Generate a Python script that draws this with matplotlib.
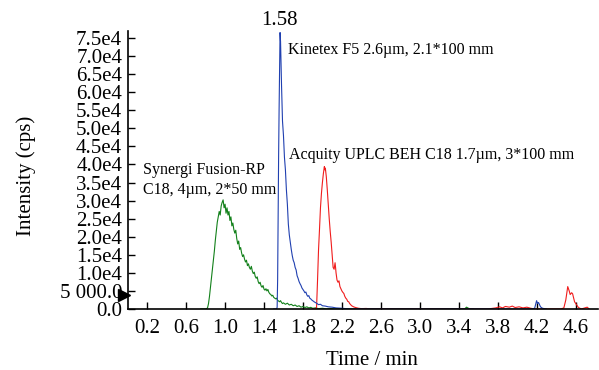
import matplotlib
matplotlib.use('Agg')
import matplotlib.pyplot as plt

plt.rcParams['font.family'] = ['Liberation Serif', 'DejaVu Serif']

# ========== data ==========
green_t = [0.75, 0.80, 0.81, 0.82, 0.83, 0.84, 0.85, 0.86, 0.87, 0.88, 0.89,
           0.90, 0.91, 0.92, 0.93, 0.94, 0.95, 0.96, 0.97, 0.98, 0.99,
           1.00, 1.01, 1.02, 1.03, 1.04, 1.05, 1.06, 1.07, 1.08, 1.09,
           1.10, 1.11, 1.12, 1.13, 1.14, 1.15, 1.16, 1.17, 1.18, 1.19,
           1.20, 1.21, 1.22, 1.23, 1.24, 1.25, 1.26, 1.27, 1.28, 1.29,
           1.30, 1.31, 1.32, 1.33, 1.34, 1.35, 1.36, 1.37, 1.38, 1.39,
           1.40, 1.41, 1.42, 1.43, 1.44, 1.45, 1.46, 1.47, 1.48, 1.49,
           1.50, 1.51, 1.52, 1.53, 1.54, 1.55, 1.56, 1.57, 1.58, 1.59,
           1.60, 1.62, 1.64, 1.66, 1.68, 1.70, 1.72, 1.74, 1.76, 1.78,
           1.80, 1.82, 1.84, 1.86, 1.88, 1.90, 1.93, 1.96, 2.00, 2.04,
           2.08, 2.12, 3.46, 3.48, 3.50, 3.52, 3.55]
green_i = [0, 0, 100, 300, 1500, 3500, 6000, 8500, 11000, 13500, 16000,
           19000, 21500, 24000, 25500, 27000, 26000, 28500, 29500, 30200, 28000,
           29000, 26500, 28000, 26000, 27000, 24500, 25500, 23000, 23800, 22000,
           21000, 21800, 19500, 18000, 18800, 16500, 17000, 15500, 14500, 15000,
           13800, 13000, 13500, 12000, 12500, 11500, 11000, 11800, 10500, 9800,
           10200, 9000, 8500, 8900, 7600, 7000, 7400, 6400, 6000, 6500,
           5500, 5200, 5600, 5000, 5400, 4600, 4200, 4000, 3600, 3800,
           3200, 3000, 2800, 3000, 2400, 2200, 2000, 2300, 1800, 1500,
           1700, 1300, 1600, 1100, 1300, 900, 1100, 700, 900, 500,
           700, 400, 600, 300, 450, 200, 300, 100, 200, 50,
           150, 0, 0, 500, 200, 0, 0]

blue_t = [1.50, 1.53, 1.535, 1.54, 1.545, 1.55, 1.555, 1.56, 1.565, 1.57,
          1.575, 1.58, 1.585, 1.59, 1.60, 1.61, 1.62, 1.63, 1.64, 1.65,
          1.66, 1.67, 1.68, 1.69, 1.70, 1.71, 1.72, 1.73, 1.74, 1.75,
          1.76, 1.77, 1.78, 1.79, 1.80, 1.81, 1.82, 1.83, 1.84, 1.85,
          1.86, 1.87, 1.88, 1.89, 1.90, 1.92, 1.94, 1.96, 1.98, 2.00,
          2.03, 2.06, 2.10, 2.14, 2.20, 2.26, 2.30, 4.15, 4.18, 4.20,
          4.21, 4.22, 4.24, 4.26, 4.30]
blue_i = [0, 0, 500, 8000, 25000, 42000, 55000, 66000, 76500, 74000,
          68000, 62000, 57000, 52000, 48000, 42000, 38500, 33000, 29000, 23500,
          20500, 18500, 16500, 14800, 13500, 12800, 11500, 10800, 9200, 8500,
          7600, 7000, 6500, 5800, 5400, 5000, 4500, 4700, 3900, 3500,
          3700, 3000, 2800, 2500, 2300, 1900, 1600, 1200, 1300, 900,
          800, 600, 500, 300, 200, 50, 0, 0, 200, 2300,
          1500, 1800, 600, 200, 0]

red_t = [1.90, 1.93, 1.94, 1.95, 1.96, 1.97, 1.98, 1.99, 2.00, 2.01,
         2.02, 2.025, 2.03, 2.04, 2.05, 2.06, 2.07, 2.08, 2.09, 2.10,
         2.11, 2.12, 2.13, 2.135, 2.14, 2.15, 2.16, 2.17, 2.18, 2.19,
         2.20, 2.21, 2.22, 2.23, 2.24, 2.25, 2.26, 2.27, 2.28, 2.29,
         2.30, 2.32, 2.34, 2.37, 2.40, 2.45, 2.50, 2.60, 3.70, 3.78,
         3.82, 3.85, 3.88, 3.92, 3.95, 3.98, 4.02, 4.06, 4.10, 4.14,
         4.18, 4.45, 4.48, 4.50, 4.52, 4.535, 4.545, 4.56, 4.57, 4.59,
         4.61, 4.63, 4.66, 4.72, 4.74]
red_i = [0, 0, 500, 8000, 16300, 22000, 28000, 32000, 35000, 37500,
         39400, 38500, 39000, 36600, 33000, 29000, 25000, 21500, 18500, 15000,
         11500, 11000, 12800, 11500, 10000, 8000, 7400, 7800, 6200, 5600,
         5000, 4600, 4300, 3500, 3000, 2700, 2100, 2000, 1500, 1200,
         900, 600, 400, 200, 100, 150, 0, 50, 0, 300,
         600, 300, 700, 500, 800, 400, 600, 300, 500, 200,
         0, 0, 300, 2500, 6200, 5000, 4000, 4500, 4200, 2000,
         1200, 400, 0, 500, 0]

x_ticks = [0.2, 0.6, 1.0, 1.4, 1.8, 2.2, 2.6, 3.0, 3.4, 3.8, 4.2, 4.6]
y_ticks = [0, 5000, 10000, 15000, 20000, 25000, 30000, 35000, 40000,
           45000, 50000, 55000, 60000, 65000, 70000, 75000]
y_labels = ['0.0', '5 000.0', '1.0e4', '1.5e4', '2.0e4', '2.5e4', '3.0e4',
            '3.5e4', '4.0e4', '4.5e4', '5.0e4', '5.5e4', '6.0e4', '6.5e4',
            '7.0e4', '7.5e4']

# ========== plot ==========
fig = plt.figure(figsize=(5.99, 3.70), dpi=100)
ax = fig.add_axes([0.2132, 0.1649, 0.785, 0.752])

ax.plot(green_t, green_i, color='#12801a', lw=0.8)
ax.plot(red_t, red_i, color='#f01c1c', lw=0.8)
ax.plot(blue_t, blue_i, color='#2040b0', lw=0.8)

ax.set_xlim(0, 4.83)
ax.set_ylim(0, 77000)
ax.set_xticks(x_ticks)
ax.set_xticklabels([f'{v:.1f}' for v in x_ticks])
ax.set_yticks(y_ticks)
ax.set_yticklabels(y_labels)
ax.tick_params(direction='in', length=5, width=1, labelsize=15)
ax.tick_params(axis='x', pad=7)
ax.tick_params(axis='y', pad=4)
for s in ['top', 'right']:
    ax.spines[s].set_visible(False)
for s in ['left', 'bottom']:
    ax.spines[s].set_linewidth(1.2)

ax.set_xlabel('Time / min', fontsize=15)
ax.set_ylabel('Intensity (cps)', fontsize=15)
ax.xaxis.set_label_coords(0.519, -0.15)
ax.yaxis.set_label_coords(-0.196, 0.48)

# marker on the y axis
ax.plot([-0.04], [3800], marker='>', color='black', ms=8, clip_on=False)

# annotations
ax.text(1.56, 79800, '1.58', fontsize=15, ha='center', va='center')
ax.text(1.642, 71660, 'Kinetex F5 2.6µm, 2.1*100 mm', fontsize=11.5, va='center')
ax.text(1.652, 42600, 'Acquity UPLC BEH C18 1.7µm, 3*100 mm', fontsize=11.5, va='center')
ax.text(0.152, 38460, 'Synergi Fusion-RP', fontsize=11.5, va='center')
ax.text(0.152, 32930, 'C18, 4µm, 2*50 mm', fontsize=11.5, va='center')

plt.savefig('out.png', dpi=100)
